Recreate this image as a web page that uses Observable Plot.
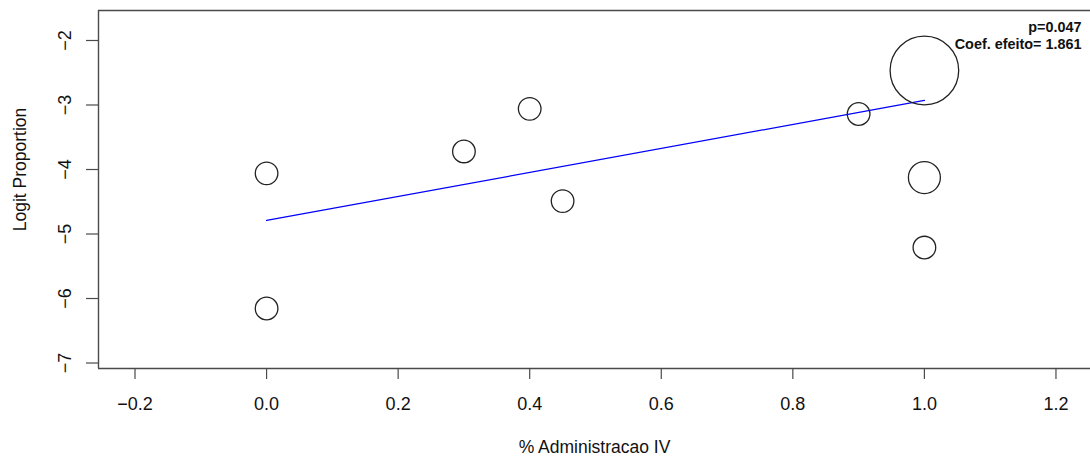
<!DOCTYPE html>
<html>
<head>
<meta charset="utf-8">
<script src="https://cdn.jsdelivr.net/npm/d3@7"></script>
<script src="https://cdn.jsdelivr.net/npm/@observablehq/plot@0.6"></script>
<style>
  html, body { margin: 0; padding: 0; background: #fff; }
  #chart svg { display: block; }
</style>
</head>
<body>
<div id="chart"></div>
<script>
// ---- data ----
const propIV   = [0.0, 0.0, 0.3, 0.4, 0.45, 0.9, 1.0, 1.0, 1.0];
const logitP   = [-4.06, -6.155, -3.72, -3.06, -4.49, -3.14, -2.465, -4.125, -5.21];
const weights  = [5, 5, 5, 5, 5, 5, 46, 10, 5];
const fitX     = [0, 1];
const fitY     = [-4.79, -2.929];
const xTicks   = [-0.2, 0.0, 0.2, 0.4, 0.6, 0.8, 1.0, 1.2];
const yTicks   = [-7, -6, -5, -4, -3, -2];
const annot    = ["p=0.047", "Coef. efeito= 1.861"];
const xTitle   = "% Administracao IV";
const yTitle   = "Logit Proportion";

const xDomain = [-0.2555, 1.2525];
const yDomain = [-7.085, -1.535];

const studies = propIV.map((x, i) => ({x, y: logitP[i], w: weights[i]}));
const fit = fitX.map((x, i) => ({x, y: fitY[i]}));

const font = "'Liberation Sans', Arial, Helvetica, sans-serif";
const axisGray = "#4a4a4a";

const chart = Plot.plot({
  width: 1090,
  height: 459,
  marginLeft: 98,
  marginRight: 0,
  marginTop: 10,
  marginBottom: 91,
  style: {fontFamily: font, background: "#fff", color: "#111"},
  x: {domain: xDomain, axis: null},
  y: {domain: yDomain, axis: null},
  r: {type: "sqrt", domain: [0, 46], range: [0, 34.3]},
  marks: [
    // box (top, left, bottom)
    Plot.ruleY([yDomain[0], yDomain[1]], {stroke: axisGray, strokeWidth: 1.4}),
    Plot.ruleX([xDomain[0]], {stroke: axisGray, strokeWidth: 1.4}),
    // x axis ticks + labels
    Plot.axisX({ticks: xTicks, tickSize: 11, tickPadding: 18, tickFormat: d3.format(".1f"),
      fontSize: 18, stroke: axisGray, strokeWidth: 1.2, fill: "#111", label: null}),
    // y axis ticks
    Plot.axisY({ticks: yTicks, tickSize: 12, tickFormat: () => "", stroke: axisGray, strokeWidth: 1.2, label: null}),
    // y tick labels (rotated like base R)
    Plot.text(yTicks, {y: d => d, text: d => d3.format("d")(d), frameAnchor: "left", dx: -33.5,
      rotate: -90, fontSize: 18, fill: "#111", textAnchor: "middle", lineAnchor: "middle"}),
    // axis titles
    Plot.text([xTitle], {frameAnchor: "bottom", dy: 79, fontSize: 17.5, fill: "#111",
      textAnchor: "middle", lineAnchor: "middle"}),
    Plot.text([yTitle], {frameAnchor: "left", dx: -78.5, dy: -20, rotate: -90, fontSize: 17.5,
      fill: "#111", textAnchor: "middle", lineAnchor: "middle"}),
    // regression line
    Plot.line(fit, {x: "x", y: "y", stroke: "#0000ff", strokeWidth: 1.3}),
    // study bubbles
    Plot.dot(studies, {x: "x", y: "y", r: "w", stroke: "#222", strokeWidth: 1.3, fill: "none"}),
    // annotation
    Plot.text([annot.join("\n")], {frameAnchor: "top-right", dx: -9, dy: 8.5, textAnchor: "end",
      lineAnchor: "top", fontSize: 14.4, fontWeight: "bold", lineHeight: 1.23, fill: "#111"})
  ]
});
document.getElementById("chart").appendChild(chart);
</script>
</body>
</html>
